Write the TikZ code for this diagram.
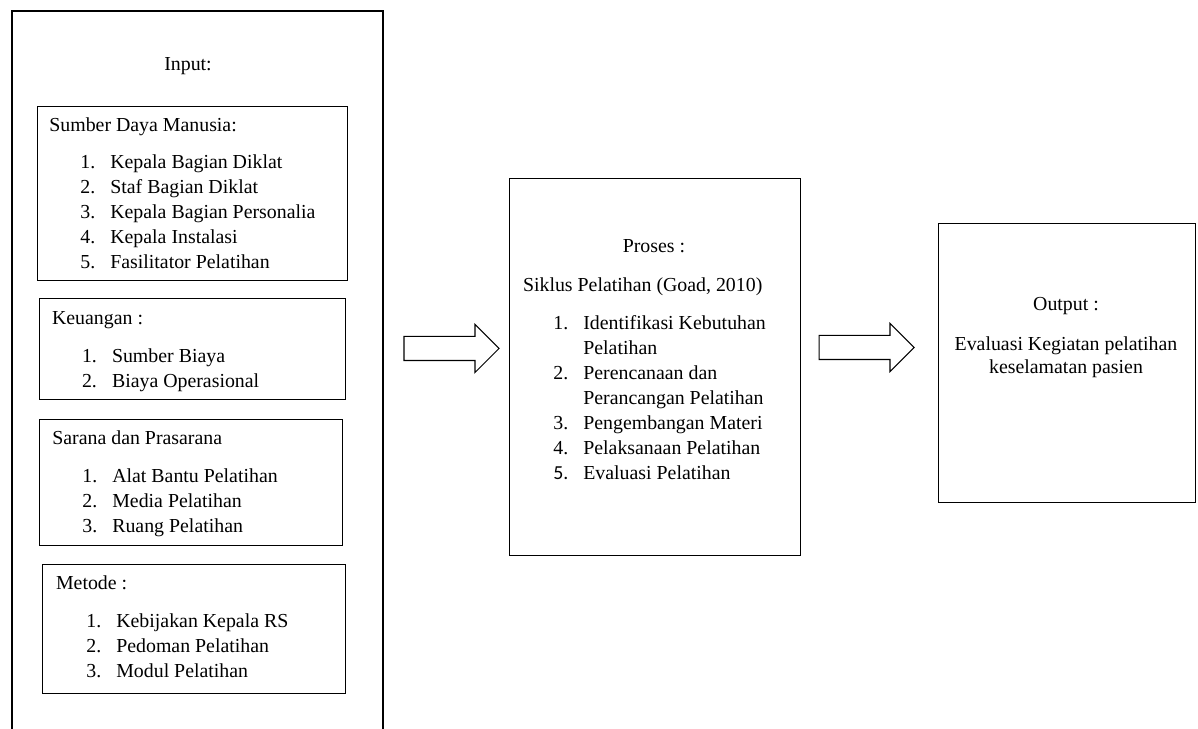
\documentclass[tikz,border=0pt]{standalone}
\usepackage{fontspec}
\setmainfont{Liberation Serif}
\newfontfamily\numfont{Carlito}
\usepackage{tikz}
\usetikzlibrary{shapes.arrows}
\newcommand{\nm}[1]{\makebox[0.6cm][l]{#1}}

\begin{document}
\begin{tikzpicture}[
        x=0.02cm,y=-0.02cm,
        box/.style={draw,line width=0.75pt,inner sep=0pt,anchor=north west},
        txt/.style={inner sep=0pt,font=\fontsize{11.3}{14.2}\selectfont},
        lst/.style={txt,align=left,anchor=base west},
        blk/.style={draw,line width=0.6pt,single arrow,single arrow head extend=0.24cm,single arrow tip angle=90,inner sep=0pt,inner ysep=0.23cm,minimum height=1.9cm}
      ]
        \useasboundingbox (0,0) rectangle (1198,729);
        \draw[line width=0.75pt] (12,729) |- (383,11) -- (383,729);
        \node[txt,anchor=base] (inp) at (188,70.7) {Input:};

        % multi-line nodes: base = baseline of last line
        \node[box,minimum width=6.2cm,minimum height=3.48cm] (sdm) at (37,106) {};
        \node[lst] (sdmH) at (49,131.7) {Sumber Daya Manusia:};
        \node[lst] (sdmL) at (80,268.3) {\nm{1.}Kepala Bagian Diklat\\ \nm{2.}Staf Bagian Diklat\\ \nm{3.}Kepala Bagian Personalia\\ \nm{4.}Kepala Instalasi\\ \nm{5.}Fasilitator Pelatihan};

        \node[box,minimum width=6.12cm,minimum height=2.02cm] (keu) at (39,298) {};
        \node[lst] (keuH) at (51.7,324.3) {Keuangan :};
        \node[lst] (keuL) at (81.7,387.3) {\nm{1.}Sumber Biaya\\ \nm{2.}Biaya Operasional};

        \node[box,minimum width=6.06cm,minimum height=2.52cm] (sar) at (39,419) {};
        \node[lst] (sarH) at (52,444.3) {Sarana dan Prasarana};
        \node[lst] (sarL) at (82,532.3) {\nm{1.}Alat Bantu Pelatihan\\ \nm{2.}Media Pelatihan\\ \nm{3.}Ruang Pelatihan};

        \node[box,minimum width=6.06cm,minimum height=2.58cm] (met) at (42,564) {};
        \node[lst] (metH) at (55.7,589.3) {Metode :};
        \node[lst] (metL) at (86,677.3) {\nm{1.}Kebijakan Kepala RS\\ \nm{2.}Pedoman Pelatihan\\ \nm{3.}Modul Pelatihan};

        \node[box,minimum width=5.82cm,minimum height=7.54cm] (pro) at (509,178) {};
        \node[txt,anchor=base] (proH) at (654,252.3) {Proses :};
        \node[txt,anchor=base] (proS) at (642.7,291.7) {Siklus Pelatihan (Goad, 2010)};
        \node[lst] (proL) at (553,479.3) {\nm{1.}Identifikasi Kebutuhan\\ \nm{}Pelatihan\\ \nm{2.}Perencanaan dan\\ \nm{}Perancangan Pelatihan\\ \nm{3.}Pengembangan Materi\\ \nm{4.}Pelaksanaan Pelatihan\\ \nm{{\numfont 5.}}Evaluasi Pelatihan};

        \node[box,minimum width=5.14cm,minimum height=5.58cm] (out) at (938,223) {};
        \node[txt,anchor=base] (outH) at (1066,311) {Output :};
        \node[txt,align=center,anchor=base,font=\fontsize{11.3}{13.3}\selectfont] (outT) at (1066,374) {Evaluasi Kegiatan pelatihan\\ keselamatan pasien};

        \node[blk] (a1) at (445.5,348.5) {};
        \node[blk] (a2) at (860.5,347.5) {};
      \end{tikzpicture}
\end{document}
